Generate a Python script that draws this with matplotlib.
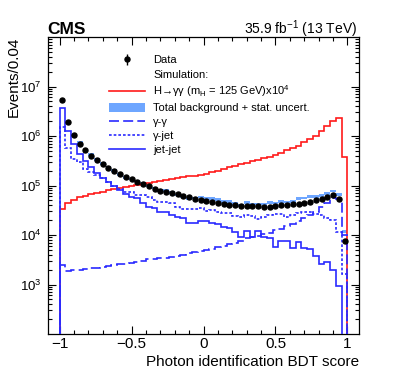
import numpy as np
import matplotlib
matplotlib.use("Agg")
import matplotlib.pyplot as plt
from matplotlib.lines import Line2D
from matplotlib.patches import Patch, Rectangle
from matplotlib.ticker import MultipleLocator, FixedLocator, LogLocator, NullFormatter

plt.rcParams['font.family'] = ['Liberation Sans', 'DejaVu Sans']
plt.rcParams['mathtext.fontset'] = 'custom'
plt.rcParams['mathtext.rm'] = 'Liberation Sans'
plt.rcParams['mathtext.it'] = 'Liberation Sans:italic'
plt.rcParams['mathtext.bf'] = 'Liberation Sans:bold'

# ---------------- data (50 bins of width 0.04 from -1 to 1) ----------------
bin_low, bin_high, n_bins = -1.0, 1.0, 50

data = [5.3e6, 1.9e6, 1.05e6, 7.0e5, 5.2e5, 4.0e5, 3.2e5, 2.7e5, 2.26e5, 1.94e5,
        1.69e5, 1.5e5, 1.33e5, 1.16e5, 1.06e5, 9.6e4, 8.6e4, 7.9e4, 7.3e4, 7.1e4,
        6.6e4, 6.2e4, 5.8e4, 5.4e4, 5.2e4, 4.9e4, 4.6e4, 4.4e4, 4.2e4, 4.1e4,
        4.0e4, 3.9e4, 3.9e4, 3.8e4, 3.8e4, 3.7e4, 3.7e4, 3.9e4, 4.0e4, 4.1e4,
        4.2e4, 4.3e4, 4.5e4, 4.7e4, 5.0e4, 5.3e4, 5.9e4, 6.4e4, 5.3e4, 7.7e3]

higgs_x1e4 = [3.3e4, 4.4e4, 5.1e4, 5.8e4, 6.1e4, 6.6e4, 6.9e4, 7.5e4, 8.1e4, 8.4e4,
              8.8e4, 9.2e4, 9.6e4, 1.02e5, 1.08e5, 1.12e5, 1.17e5, 1.22e5, 1.28e5, 1.34e5,
              1.40e5, 1.46e5, 1.52e5, 1.58e5, 1.65e5, 1.72e5, 1.85e5, 2.0e5, 2.15e5, 2.35e5,
              2.5e5, 2.7e5, 2.9e5, 3.1e5, 3.3e5, 3.55e5, 3.85e5, 4.2e5, 4.6e5, 5.1e5,
              5.7e5, 6.4e5, 7.4e5, 8.5e5, 1.0e6, 1.25e6, 1.6e6, 2.0e6, 2.3e6, 3.8e5]

gamma_gamma = [2.5e3, 1.9e3, 1.95e3, 2.0e3, 2.05e3, 2.15e3, 2.2e3, 2.3e3, 2.4e3, 2.45e3,
               2.55e3, 2.6e3, 2.7e3, 2.85e3, 3.0e3, 3.2e3, 3.3e3, 3.4e3, 3.5e3, 3.65e3,
               3.8e3, 4.0e3, 4.3e3, 4.5e3, 4.7e3, 4.9e3, 5.2e3, 5.6e3, 6.0e3, 6.5e3,
               7.0e3, 7.7e3, 8.5e3, 9.0e3, 9.7e3, 1.04e4, 1.12e4, 1.25e4, 1.35e4, 1.5e4,
               1.7e4, 1.95e4, 2.2e4, 2.55e4, 2.95e4, 3.6e4, 4.4e4, 5.5e4, 5.3e4, 1.0e4]

gamma_jet = [1.5e6, 5.6e5, 3.5e5, 3.0e5, 2.15e5, 1.85e5, 1.6e5, 1.4e5, 1.16e5, 1.0e5,
             8.5e4, 7.5e4, 7.5e4, 6.4e4, 6.4e4, 5.9e4, 5.1e4, 4.7e4, 4.7e4, 4.4e4,
             3.7e4, 3.35e4, 3.35e4, 3.35e4, 3.5e4, 3.05e4, 3.25e4, 2.95e4, 2.75e4, 2.75e4,
             2.45e4, 2.3e4, 2.5e4, 2.4e4, 2.1e4, 2.3e4, 2.5e4, 2.6e4, 2.7e4, 2.35e4,
             2.5e4, 2.75e4, 2.9e4, 2.9e4, 2.7e4, 2.5e4, 2.24e4, 2.0e4, 1.15e4, 1.65e3]

jet_jet = [3.7e6, 1.26e6, 6.8e5, 4.3e5, 3.1e5, 2.4e5, 1.75e5, 1.4e5, 1.16e5, 1.0e5,
           8.1e4, 6.8e4, 5.8e4, 5.6e4, 4.4e4, 3.6e4, 3.5e4, 2.9e4, 2.9e4, 2.5e4,
           2.3e4, 2.2e4, 1.75e4, 1.75e4, 1.9e4, 1.95e4, 1.75e4, 1.7e4, 1.45e4, 1.4e4,
           1.15e4, 9.2e3, 1.2e4, 9.0e3, 1.2e4, 9.0e3, 8.8e3, 5.6e3, 7.7e3, 7.7e3,
           5.5e3, 7.3e3, 5.5e3, 5.3e3, 3.8e3, 2.6e3, 2.8e3, 2.0e3, 930, 0]

bkg_stat_unc = 0.06  # relative half-width of the total-background band

x_ticks_major = [-1, -0.5, 0, 0.5, 1]
y_ticks_major = [1e3, 1e4, 1e5, 1e6, 1e7]

# ---------------- derived ----------------
edges = np.linspace(bin_low, bin_high, n_bins + 1)
centers = 0.5 * (edges[:-1] + edges[1:])
data = np.array(data)
total_bkg = np.array(gamma_gamma) + np.array(gamma_jet) + np.array(jet_jet)

RED = '#ff1a1a'
BLUE = '#2a2aff'
BAND = '#6ea6ff'
DASH = (0, (6, 2.5))
DOT = (0, (1.6, 1.2))

fig = plt.figure(figsize=(3.99, 3.8), dpi=100)
W, H = 399, 380
ax = fig.add_axes([48 / W, 1 - 334 / H, (359 - 48) / W, (334 - 37) / H])

ax.set_yscale('log')
ax.set_xlim(-1.08, 1.08)
ax.set_ylim(1e2, 1e8)

# band
ax.stairs(total_bkg * (1 + bkg_stat_unc), edges, baseline=total_bkg * (1 - bkg_stat_unc),
          fill=True, color=BAND, lw=0, zorder=1)
# signal
ax.stairs(higgs_x1e4, edges, baseline=0, color=RED, lw=1.2, zorder=2)
# backgrounds
ax.stairs(gamma_gamma, edges, baseline=0, color=BLUE, lw=1.2, linestyle=DASH, zorder=3)
ax.stairs(gamma_jet, edges, baseline=0, color=BLUE, lw=1.2, linestyle=DOT, zorder=3)
ax.stairs(jet_jet, edges, baseline=0, color=BLUE, lw=1.2, linestyle='-', zorder=3)
# data
eb = ax.errorbar(centers, data, yerr=np.sqrt(data), fmt='o', color='black', ms=3.6,
                 elinewidth=1.0, capsize=0, zorder=5)

# ticks
ax.xaxis.set_major_locator(FixedLocator(x_ticks_major))
ax.xaxis.set_minor_locator(MultipleLocator(0.1))
ax.yaxis.set_major_locator(FixedLocator(y_ticks_major))
ax.yaxis.set_minor_locator(LogLocator(base=10, subs=np.arange(2, 10), numticks=30))
ax.yaxis.set_minor_formatter(NullFormatter())
ax.tick_params(which='both', direction='in', top=True, right=True, width=0.8)
ax.tick_params(which='major', length=6)
ax.tick_params(which='minor', length=3)
ax.tick_params(axis='x', labelsize=11, pad=2.5)
ax.tick_params(axis='y', labelsize=9.5, pad=4.5)
ax.set_xticklabels(['\u22121', '\u22120.5', '0', '0.5', '1'])
for s in ax.spines.values():
    s.set_linewidth(0.9)

ax.set_xlabel('Photon identification BDT score', fontsize=11, loc='right')
ax.xaxis.set_label_coords(1.0, -0.072)
ax.xaxis.label.set_va('top')
ax.set_ylabel('Events/0.04', fontsize=11, loc='top')
ax.yaxis.set_label_coords(-0.088, 1.0)

fig.text(47 / W, 1 - 33.5 / H, 'CMS', fontsize=12.5, fontweight='bold', va='baseline', ha='left')
fig.text(357 / W, 1 - 33.5 / H, '35.9 fb$^{-1}$ (13 TeV)', fontsize=10, va='baseline', ha='right')

# legend
blank = Rectangle((0, 0), 1, 1, fill=False, edgecolor='none', visible=False)
handles = [eb, blank,
           Line2D([], [], color=RED, lw=1.2),
           Patch(facecolor=BAND, edgecolor='none'),
           Line2D([], [], color=BLUE, lw=1.2, linestyle=DASH),
           Line2D([], [], color=BLUE, lw=1.2, linestyle=DOT),
           Line2D([], [], color=BLUE, lw=1.2)]
labels = ['Data', 'Simulation:',
          'H\u2192\u03b3\u03b3 (m$_\\mathregular{H}$ = 125 GeV)x10$^\\mathregular{4}$',
          'Total background + stat. uncert.',
          '\u03b3-\u03b3', '\u03b3-jet', 'jet-jet']
leg = ax.legend(handles, labels, loc='upper left', bbox_to_anchor=(109 / W, 1 - 55 / H),
                bbox_transform=fig.transFigure, frameon=False, fontsize=8,
                handlelength=3.2, handletextpad=0.8, borderpad=0, borderaxespad=0,
                labelspacing=0.33, handleheight=0.9)

fig.savefig('out.png', dpi=100)
